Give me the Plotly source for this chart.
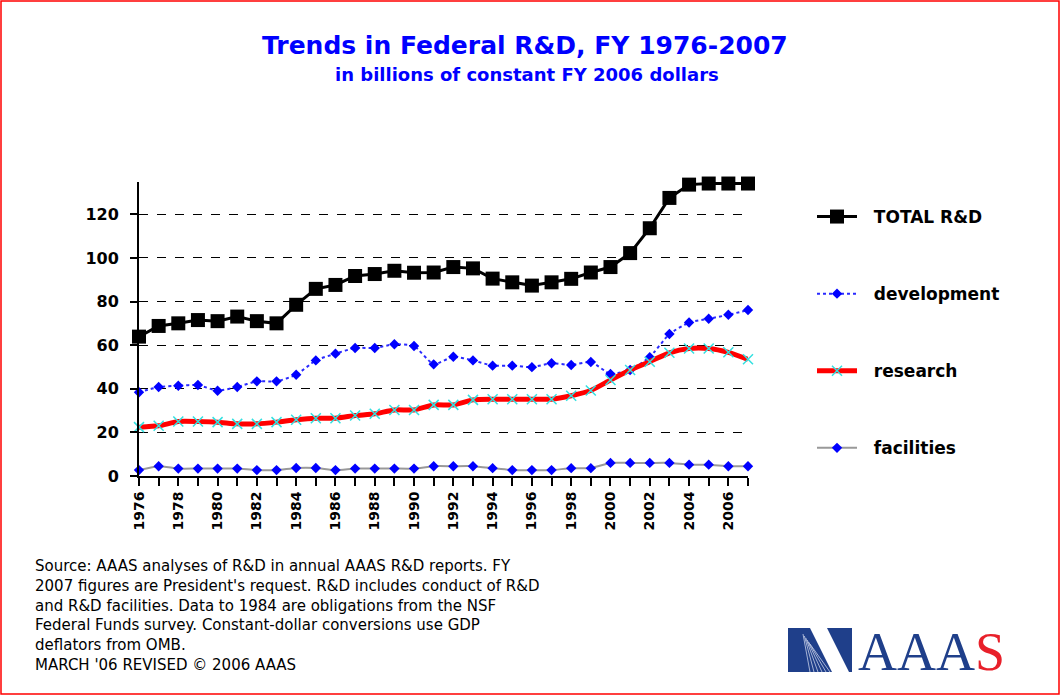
import plotly.graph_objects as go

years = list(range(1976, 2008))
total_rd = [63.9, 68.8, 70.0, 71.5, 71.0, 73.1, 71.0, 70.0, 78.5, 85.8, 87.6, 91.7, 92.6, 94.1, 93.2, 93.3,
            95.8, 95.2, 90.5, 88.8, 87.3, 88.8, 90.4, 93.3, 95.8, 102.2, 113.6, 127.5, 133.6, 134.1, 134.1, 134.1]
development = [38.4, 40.8, 41.4, 41.7, 39.1, 40.8, 43.4, 43.4, 46.4, 53.0, 56.1, 58.7, 58.7, 60.4, 59.6, 51.2,
               54.7, 53.0, 50.6, 50.6, 49.9, 51.7, 50.9, 52.3, 46.8, 48.6, 54.5, 65.1, 70.4, 72.1, 73.9, 76.1]
research = [22.4, 23.0, 25.0, 25.0, 24.7, 23.9, 23.9, 24.7, 25.8, 26.5, 26.5, 27.7, 28.5, 30.3, 30.3, 32.6,
            32.6, 34.9, 35.2, 35.2, 35.2, 35.2, 36.8, 39.2, 44.0, 48.6, 52.4, 56.5, 58.5, 58.5, 56.7, 53.5]
facilities = [2.7, 4.5, 3.4, 3.4, 3.4, 3.4, 2.7, 2.7, 3.7, 3.7, 2.7, 3.4, 3.4, 3.4, 3.4, 4.5,
              4.5, 4.5, 3.6, 2.7, 2.7, 2.7, 3.6, 3.6, 6.0, 6.0, 6.0, 6.0, 5.2, 5.2, 4.5, 4.5]
y_ticks = [0, 20, 40, 60, 80, 100, 120]
x_labels = [str(y) if y % 2 == 0 else "" for y in years]

title = "Trends in Federal R&D, FY 1976-2007"
subtitle = "in billions of constant FY 2006 dollars"
footer_lines = [
    "Source: AAAS analyses of R&D in annual AAAS R&D reports. FY",
    "2007 figures are President's request. R&D includes conduct of R&D",
    "and R&D facilities. Data to 1984 are obligations from the NSF",
    "Federal Funds survey. Constant-dollar conversions use GDP",
    "deflators from OMB.",
    "MARCH '06 REVISED \u00a9 2006 AAAS",
]

W_FIG, H_FIG = 1061, 696
L, R, T, B = 139, 313, 182, 220
PW = W_FIG - L - R
PH = H_FIG - T - B


def px(x):
    return (x - L) / PW


def py(y):
    return (H_FIG - B - y) / PH


FONT = "DejaVu Sans, Verdana, sans-serif"
PAD = "\u00a0\u00a0"

fig = go.Figure()
fig.add_trace(go.Scatter(
    x=years, y=total_rd, name=PAD + "TOTAL R&D", legendgroup="a", mode="lines+markers",
    line=dict(color="black", width=3),
    marker=dict(symbol="square", size=14, color="black"), cliponaxis=False))
fig.add_trace(go.Scatter(
    x=years, y=development, name=PAD + "development", legendgroup="b", mode="lines+markers",
    line=dict(color="#2a2aff", width=2, dash="dot", shape="spline", smoothing=0.5),
    marker=dict(symbol="diamond", size=8, color="#0000ff"), cliponaxis=False))
fig.add_trace(go.Scatter(
    x=years, y=research, name=PAD + "research", legendgroup="c", mode="lines+markers",
    line=dict(color="#ff0000", width=5, shape="spline", smoothing=0.6),
    marker=dict(symbol="x-thin", size=10, line=dict(color="#33e0e0", width=1.5)), cliponaxis=False))
fig.add_trace(go.Scatter(
    x=years, y=facilities, name=PAD + "facilities", legendgroup="d", mode="lines+markers",
    line=dict(color="#999999", width=2, shape="spline", smoothing=0.5),
    marker=dict(symbol="diamond", size=8, color="#0000ff"), cliponaxis=False))

fig.update_layout(
    width=W_FIG, height=H_FIG,
    margin=dict(l=L, r=R, t=T, b=B, autoexpand=False),
    paper_bgcolor="white", plot_bgcolor="white",
    font=dict(family=FONT, color="black"),
    showlegend=True,
    legend=dict(x=px(812), y=py(199), xanchor="left", yanchor="top",
                font=dict(family=FONT, size=17, color="black", weight="bold"),
                tracegroupgap=52, bgcolor="rgba(0,0,0,0)", itemwidth=40),
    xaxis=dict(range=[1976, 2007], tickmode="array", tickvals=years, ticktext=x_labels,
               tickangle=-90, ticks="outside", ticklen=8, tickwidth=2, tickcolor="black",
               showline=True, linecolor="black", linewidth=2, showgrid=False, zeroline=False,
               tickfont=dict(family=FONT, size=14, color="black", weight="bold")),
    yaxis=dict(range=[0, 134.8], tickmode="array", tickvals=y_ticks,
               showline=True, linecolor="black", linewidth=2, ticks="outside", ticklen=7,
               tickwidth=1.5, tickcolor="black",
               showgrid=True, gridcolor="black", gridwidth=1.2, griddash="dash",
               zeroline=False, ticklabelstandoff=8,
               tickfont=dict(family=FONT, size=16, color="black", weight="bold")),
)

annotations = [
    dict(text=title, x=px(525), y=py(46), xref="paper", yref="paper", showarrow=False,
         xanchor="center", yanchor="middle",
         font=dict(family=FONT, size=25, color="#0000ff", weight="bold")),
    dict(text=subtitle, x=px(527), y=py(74), xref="paper", yref="paper", showarrow=False,
         xanchor="center", yanchor="middle",
         font=dict(family=FONT, size=18, color="#0000ff", weight="bold")),
]
for i, line in enumerate(footer_lines):
    annotations.append(dict(text=line, x=px(33), y=py(566 + i * 19.8), xref="paper", yref="paper",
                            xanchor="left", yanchor="middle", showarrow=False,
                            font=dict(family=FONT, size=15, color="black")))
annotations.append(dict(
    text='AAA<span style="color:#e8202a">S</span>', x=px(856), y=py(652), xref="paper", yref="paper",
    xanchor="left", yanchor="middle", showarrow=False,
    font=dict(family="Liberation Serif, Times New Roman, serif", size=54, color="#1f3f8a")))
fig.update_layout(annotations=annotations)

navy = "#1f3f8a"
shapes = [
    dict(type="rect", xref="paper", yref="paper", x0=px(1), x1=px(1059), y0=py(694), y1=py(1),
         line=dict(color="#ff0000", width=1.5), fillcolor="rgba(0,0,0,0)", layer="below"),
    dict(type="rect", xref="paper", yref="paper", x0=px(788), x1=px(852), y0=py(672), y1=py(628),
         line=dict(width=0), fillcolor=navy),
    dict(type="path", xref="paper", yref="paper",
         path=f"M {px(810)} {py(628)} L {px(827)} {py(628)} L {px(849)} {py(672)} L {px(832)} {py(672)} Z",
         line=dict(width=0), fillcolor="white"),
]
for k in range(6):
    shapes.append(dict(type="line", xref="paper", yref="paper",
                       x0=px(803 + k * 1.4), y0=py(634 + k * 2), x1=px(810 + k * 4), y1=py(672),
                       line=dict(color="#c8d0e8", width=0.8)))
fig.update_layout(shapes=shapes)

fig.write_html("out.html", config={"displayModeBar": False},
               post_script="document.body.style.margin='0';")
